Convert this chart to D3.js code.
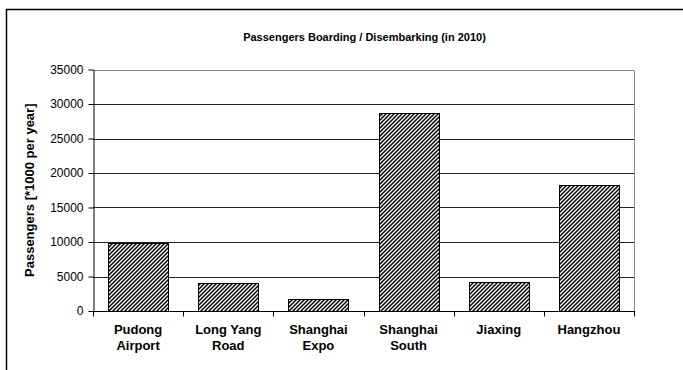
<!DOCTYPE html>
<html><head><meta charset="utf-8">
<script src="https://cdn.jsdelivr.net/npm/d3@7"></script>
<style>body{margin:0;background:#fff;} svg{display:block;font-family:Arial,"Liberation Sans",sans-serif;}</style>
</head><body>
<svg id="c" width="683" height="370"></svg>
<script>
const categories = [["Pudong","Airport"],["Long Yang","Road"],["Shanghai","Expo"],["Shanghai","South"],["Jiaxing"],["Hangzhou"]];
const values = [9900, 4000, 1700, 28700, 4200, 18200];
const yTicks = [0,5000,10000,15000,20000,25000,30000,35000];
const title = "Passengers Boarding / Disembarking (in 2010)";
const yTitle = "Passengers [*1000 per year]";

const svg = d3.select("#c");
const m = {l:93, r:634, t:69.5, b:311};
const x = d3.scaleBand().domain(d3.range(categories.length)).range([m.l, m.r]).paddingInner(0.335).paddingOuter(0.1675);
const xb = d3.scaleBand().domain(d3.range(categories.length)).range([m.l, m.r]);
const y = d3.scaleLinear().domain([0,35000]).range([m.b, m.t]);

// outer border
svg.append("path").attr("d","M6.5,370 L6.5,9.5 L683,9.5").attr("fill","none").attr("stroke","#000").attr("stroke-width",1.5);

const defs = svg.append("defs");
const pat = defs.append("pattern").attr("id","hatch").attr("patternUnits","userSpaceOnUse").attr("width",4).attr("height",4);
pat.append("rect").attr("width",4).attr("height",4).attr("fill","#fff");
pat.append("path").attr("d","M-1,1 L1,-1 M0,4 L4,0 M3,5 L5,3").attr("stroke","#000").attr("stroke-width",1.5);

// title
svg.append("text").attr("x",(m.l+m.r)/2+1).attr("y",41).attr("text-anchor","middle").attr("font-size",11).attr("font-weight","bold").text(title);

// gridlines
svg.append("g").selectAll("line").data(yTicks.filter(d=>d>0 && d<35000)).join("line")
  .attr("x1",m.l).attr("x2",m.r).attr("y1",d=>Math.round(y(d))+0.5).attr("y2",d=>Math.round(y(d))+0.5).attr("stroke","#222").attr("stroke-width",1);
// plot border top/right
svg.append("path").attr("d",`M${m.l},${Math.round(m.t)+0.5} L${m.r+0.5},${Math.round(m.t)+0.5} L${m.r+0.5},${m.b}`).attr("fill","none").attr("stroke","#888");

// bars
svg.append("g").selectAll("rect").data(values).join("rect")
  .attr("x",(d,i)=>Math.round(x(i))+0.5).attr("width",Math.round(x.bandwidth()))
  .attr("y",d=>Math.round(y(d))+0.5).attr("height",d=>Math.round(y(0))-Math.round(y(d)))
  .attr("fill","url(#hatch)").attr("stroke","#000").attr("stroke-width",1);

// y axis
const ya = svg.append("g").attr("transform",`translate(${m.l+0.5},0)`)
  .call(d3.axisLeft(y).tickValues(yTicks).tickSize(5).tickSizeOuter(0).tickFormat(d3.format("d")));
ya.select(".domain").attr("stroke","#000");
ya.selectAll(".tick line").attr("stroke","#000");
ya.selectAll("text").attr("font-size",12).attr("font-family","Arial,'Liberation Sans',sans-serif").attr("fill","#000").attr("x",-10);

// x axis
const xa = svg.append("g").attr("transform",`translate(0,${Math.round(m.b)+0.5})`);
xa.append("line").attr("x1",m.l).attr("x2",m.r+1).attr("stroke","#000");
xa.selectAll("line.t").data(d3.range(categories.length+1)).join("line").attr("class","t")
  .attr("x1",i=>i<categories.length?Math.round(xb(i))+0.5:m.r+0.5).attr("x2",i=>i<categories.length?Math.round(xb(i))+0.5:m.r+0.5)
  .attr("y1",0).attr("y2",5).attr("stroke","#000");
const lbl = svg.append("g").selectAll("text").data(categories).join("text")
  .attr("text-anchor","middle").attr("font-size",13).attr("font-weight","bold")
  .attr("x",(d,i)=>xb(i)+xb.bandwidth()/2).attr("y",334);
lbl.selectAll("tspan").data(d=>d).join("tspan").attr("x",function(){return this.parentNode.getAttribute("x");}).attr("dy",(d,j)=>j===0?0:16).text(d=>d);

// y title
svg.append("text").attr("transform",`translate(34,${(m.t+m.b)/2}) rotate(-90)`).attr("text-anchor","middle")
  .attr("font-size",13).attr("font-weight","bold").text(yTitle);
</script>
</body></html>
